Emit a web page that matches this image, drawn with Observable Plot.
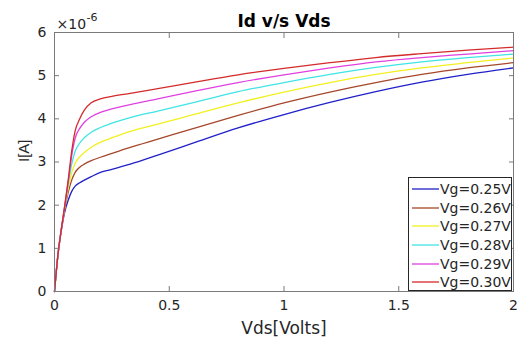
<!DOCTYPE html>
<html>
<head>
<meta charset="utf-8">
<script src="https://cdn.jsdelivr.net/npm/d3@7"></script>
<script src="https://cdn.jsdelivr.net/npm/@observablehq/plot@0.6"></script>
<style>
  html, body { margin: 0; padding: 0; background: #fff; }
  #wrap { position: relative; width: 522px; height: 340px; }
  #legend { position: absolute; left: 408px; top: 177px; width: 104px; height: 114px;
    border: 1px solid #262626; background: #fff; box-sizing: border-box;
    font-family: "DejaVu Sans", sans-serif; font-size: 14px; color: #262626; padding-top: 2px; }
  .row { display: flex; align-items: center; height: 18.6px; }
  .row svg { margin-left: 3px; margin-right: 1px; }
</style>
</head>
<body>
<div id="wrap"><div id="legend"></div></div>
<script>
// Vds in volts, Id in units of 1e-6 A
const vds = [0, 0.015, 0.03, 0.045, 0.06, 0.075, 0.09, 0.11, 0.13, 0.16, 0.2, 0.25, 0.33, 0.45, 0.6, 0.8, 1.0, 1.2, 1.4, 1.6, 1.8, 2.0];
const seriesNames = ["Vg=0.25V", "Vg=0.26V", "Vg=0.27V", "Vg=0.28V", "Vg=0.29V", "Vg=0.30V"];
const id025 = [0, 0.85, 1.42, 1.85, 2.12, 2.32, 2.44, 2.52, 2.58, 2.66, 2.76, 2.83, 2.95, 3.16, 3.43, 3.79, 4.10, 4.38, 4.63, 4.85, 5.03, 5.18];
const id026 = [0, 0.85, 1.45, 1.92, 2.30, 2.58, 2.76, 2.88, 2.95, 3.03, 3.11, 3.20, 3.34, 3.53, 3.77, 4.08, 4.37, 4.62, 4.84, 5.03, 5.18, 5.30];
const id027 = [0, 0.85, 1.45, 1.95, 2.40, 2.75, 2.97, 3.12, 3.22, 3.34, 3.46, 3.56, 3.71, 3.88, 4.09, 4.37, 4.62, 4.84, 5.03, 5.18, 5.30, 5.41];
const id028 = [0, 0.85, 1.45, 1.98, 2.50, 2.95, 3.25, 3.44, 3.56, 3.69, 3.80, 3.90, 4.03, 4.18, 4.37, 4.63, 4.84, 5.03, 5.19, 5.32, 5.42, 5.50];
const id029 = [0, 0.85, 1.45, 2.00, 2.55, 3.15, 3.55, 3.78, 3.92, 4.05, 4.15, 4.23, 4.33, 4.46, 4.63, 4.84, 5.02, 5.18, 5.32, 5.42, 5.50, 5.58];
const id030 = [0, 0.85, 1.45, 2.00, 2.60, 3.25, 3.72, 4.00, 4.20, 4.37, 4.46, 4.52, 4.59, 4.70, 4.84, 5.02, 5.17, 5.30, 5.42, 5.51, 5.59, 5.66];
const colors = ["#2020c8", "#a5472a", "#f2f020", "#40e4e4", "#e040e0", "#d42a2a"];
const xTicks = [0, 0.5, 1, 1.5, 2];
const yTicks = [0, 1, 2, 3, 4, 5, 6];

const allSeries = [id025, id026, id027, id028, id029, id030];
const data = [];
allSeries.forEach((arr, i) => arr.forEach((v, j) => data.push({x: vds[j], y: v, s: seriesNames[i]})));

const tickFont = {fontFamily: "DejaVu Sans, sans-serif", fontSize: 14, fill: "#262626"};

const chart = Plot.plot({
  width: 522, height: 340,
  marginLeft: 54, marginRight: 9, marginTop: 32, marginBottom: 49,
  style: {fontFamily: "DejaVu Sans, sans-serif", fontSize: "14px", color: "#262626", background: "#fff"},
  x: {domain: [0, 2]},
  y: {domain: [0, 6]},
  color: {domain: seriesNames, range: colors},
  marks: [
    Plot.line(data, {x: "x", y: "y", z: "s", stroke: "s", strokeWidth: 1.3, curve: "monotone-x"}),
    Plot.frame({stroke: "#7a7a7a"}),
    Plot.axisX({anchor: "bottom", ticks: xTicks, tickSize: -5, tickPadding: 14, stroke: "#7a7a7a", label: null, tickFormat: d => String(d), ...tickFont}),
    Plot.axisX({anchor: "top", ticks: xTicks, tickSize: -5, stroke: "#7a7a7a", label: null, tickFormat: () => ""}),
    Plot.axisY({anchor: "left", ticks: yTicks, tickSize: -5, tickPadding: 13, stroke: "#7a7a7a", label: null, tickFormat: d => String(d), ...tickFont}),
    Plot.axisY({anchor: "right", ticks: yTicks, tickSize: -5, stroke: "#7a7a7a", label: null, tickFormat: () => ""}),
    Plot.text(["Id v/s Vds"], {frameAnchor: "top", lineAnchor: "bottom", dy: -6, fontWeight: "bold", fontSize: 17, fill: "#000", fontFamily: "DejaVu Sans, sans-serif"}),
    Plot.text(["Vds[Volts]"], {frameAnchor: "bottom", lineAnchor: "bottom", dy: 42, fontSize: 17, fill: "#262626", fontFamily: "DejaVu Sans, sans-serif"}),
    Plot.text(["I[A]"], {frameAnchor: "left", rotate: -90, dx: -30, fontSize: 15, fill: "#262626", fontFamily: "Liberation Sans, Arial, sans-serif"}),
    Plot.text(["×10"], {frameAnchor: "top-left", textAnchor: "start", lineAnchor: "bottom", dx: 2, dy: -4, fontSize: 14, fill: "#262626", fontFamily: "DejaVu Sans, sans-serif"}),
    Plot.text(["-6"], {frameAnchor: "top-left", textAnchor: "start", lineAnchor: "bottom", dx: 32, dy: -12, fontSize: 11, fill: "#262626", fontFamily: "DejaVu Sans, sans-serif"})
  ]
});
document.getElementById("wrap").prepend(chart);

const legend = document.getElementById("legend");
seriesNames.forEach((name, i) => {
  const row = document.createElement("div");
  row.className = "row";
  row.innerHTML = `<svg width="27" height="4"><line x1="0" x2="27" y1="2" y2="2" stroke="${colors[i]}" stroke-width="1.3"/></svg><span>${name}</span>`;
  legend.appendChild(row);
});
</script>
</body>
</html>
